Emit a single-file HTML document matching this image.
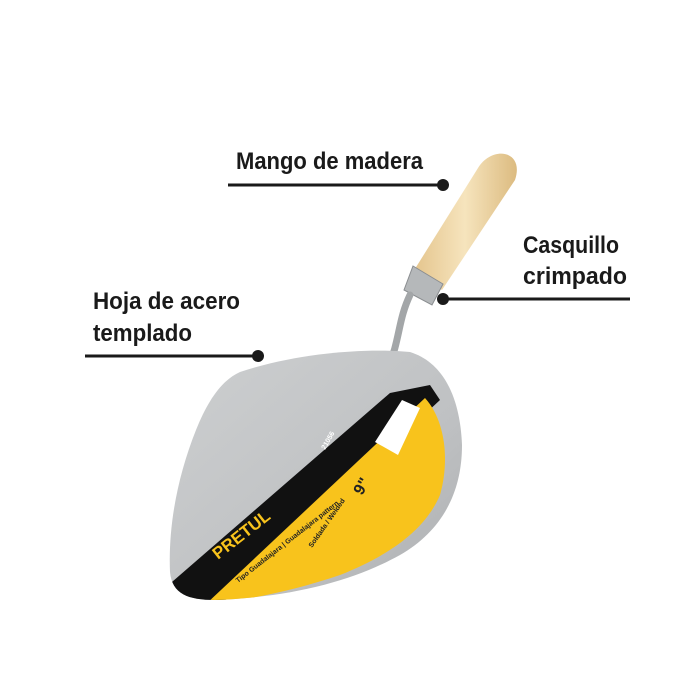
<!DOCTYPE html>
<html><head><meta charset="utf-8"><style>
html,body{margin:0;padding:0;background:#fff;}
svg{display:block}
text{font-family:"Liberation Sans",sans-serif;font-weight:bold;fill:#1a1a1a;font-size:24px}
</style></head><body>
<svg width="700" height="700" viewBox="0 0 700 700">
<defs>
<linearGradient id="wood" x1="0" y1="0" x2="1" y2="0">
<stop offset="0" stop-color="#e4c48c"/><stop offset="0.5" stop-color="#f6e4bd"/><stop offset="1" stop-color="#dcbb80"/></linearGradient>
<linearGradient id="steel" x1="0" y1="0" x2="1" y2="1">
<stop offset="0" stop-color="#cfd1d2"/><stop offset="0.6" stop-color="#bfc1c3"/><stop offset="1" stop-color="#a9abad"/></linearGradient>
<clipPath id="blade"><path d="M240,372 C300,352 370,348 410,352 C442,362 460,395 462,445 C462,495 440,532 400,555 C355,580 295,597 215,600 C188,600 172,594 170,572 C168,525 178,475 196,430 C208,400 222,380 240,372 Z"/></clipPath>
</defs>
<text x="236" y="169" textLength="187" lengthAdjust="spacingAndGlyphs">Mango de madera</text>
<line x1="228" y1="185" x2="443" y2="185" stroke="#1a1a1a" stroke-width="3"/>
<circle cx="443" cy="185" r="6" fill="#1a1a1a"/>
<text x="523" y="253" textLength="96" lengthAdjust="spacingAndGlyphs">Casquillo</text>
<text x="523" y="284" textLength="104" lengthAdjust="spacingAndGlyphs">crimpado</text>
<line x1="443" y1="299" x2="630" y2="299" stroke="#1a1a1a" stroke-width="3"/>
<circle cx="443" cy="299" r="6" fill="#1a1a1a"/>
<text x="93" y="309" textLength="147" lengthAdjust="spacingAndGlyphs">Hoja de acero</text>
<text x="93" y="341" textLength="99" lengthAdjust="spacingAndGlyphs">templado</text>
<line x1="85" y1="356" x2="258" y2="356" stroke="#1a1a1a" stroke-width="3"/>
<circle cx="258" cy="356" r="6" fill="#1a1a1a"/>
<path d="M413,272 L478,168 C492,145 525,150 515,180 L442,290 Z" fill="url(#wood)"/>
<path d="M413,266 L443,284 L432,305 L404,290 Z" fill="#b5b8ba" stroke="#8a8d90" stroke-width="1"/>
<path d="M410,295 C398,320 400,340 388,368" stroke="#a3a6a8" stroke-width="7" fill="none" stroke-linecap="round"/>
<g clip-path="url(#blade)">
<rect x="150" y="330" width="330" height="290" fill="url(#steel)"/>
<path d="M165,588 L390,393 L430,385 L440,400 L215,610 L165,610 Z" fill="#111"/>
<path d="M205,605 L425,398 C445,420 450,460 440,495 C425,530 390,555 340,575 C290,592 245,600 205,605 Z" fill="#f8c31c"/>
<path d="M375,442 L402,400 L420,408 L398,455 Z" fill="#fff"/>
</g>
<text x="0" y="0" transform="translate(218,560) rotate(-38)" style="font-size:17px;fill:#f8c31c">PRETUL</text>
<text x="0" y="0" transform="translate(238,583) rotate(-38)" style="font-size:7px;fill:#222">Tipo Guadalajara | Guadalajara pattern</text>
<text x="0" y="0" transform="translate(312,548) rotate(-55)" style="font-size:7px;fill:#222">Soldada / Welded</text>
<text x="0" y="0" transform="translate(362,496) rotate(-60)" style="font-size:16px;fill:#222">9"</text>
<text x="0" y="0" transform="translate(325,450) rotate(-60)" style="font-size:7px;fill:#fff">21056</text>
</svg>
</body></html>
